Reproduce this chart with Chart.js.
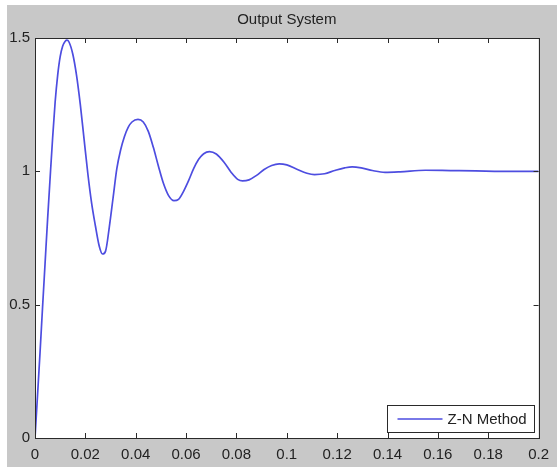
<!DOCTYPE html>
<html>
<head>
<meta charset="utf-8">
<script src="https://cdn.jsdelivr.net/npm/chart.js@4.4.1/dist/chart.umd.min.js"></script>
<style>
  html, body { margin: 0; padding: 0; background: #ffffff; }
  #wrap { width: 557px; height: 467px; }
</style>
</head>
<body>
<div id="wrap"><canvas id="outputChart" width="557" height="467"></canvas></div>
<script>
// step response samples (time in s)
const timeValues = [
  0, 0.001, 0.002, 0.003, 0.004, 0.005, 0.006, 0.007, 0.008, 0.009,
  0.010, 0.011, 0.012, 0.0127, 0.0135, 0.015, 0.0165, 0.018, 0.0195, 0.021,
  0.0225, 0.024, 0.0255, 0.0268, 0.028, 0.0295, 0.031, 0.0325, 0.034, 0.0355,
  0.037, 0.0385, 0.0409, 0.043, 0.045, 0.047, 0.049, 0.051, 0.053, 0.0552,
  0.057, 0.059, 0.061, 0.063, 0.065, 0.067, 0.0693, 0.072, 0.075, 0.078,
  0.0805, 0.0824, 0.085, 0.088, 0.091, 0.094, 0.097, 0.100, 0.104, 0.108,
  0.111, 0.115, 0.119, 0.123, 0.126, 0.130, 0.134, 0.139, 0.145, 0.155,
  0.165, 0.175, 0.185, 0.2
];
const outputValues = [
  0, 0.16, 0.32, 0.49, 0.655, 0.82, 0.975, 1.125, 1.26, 1.36,
  1.43, 1.47, 1.488, 1.492, 1.485, 1.44, 1.36, 1.25, 1.12, 0.99,
  0.88, 0.795, 0.72, 0.69, 0.70, 0.79, 0.90, 1.01, 1.08, 1.13,
  1.165, 1.185, 1.195, 1.185, 1.15, 1.09, 1.02, 0.955, 0.91, 0.89,
  0.895, 0.925, 0.965, 1.01, 1.045, 1.066, 1.074, 1.065, 1.035, 0.995,
  0.97, 0.964, 0.968, 0.985, 1.007, 1.022, 1.028, 1.024, 1.008, 0.993,
  0.988, 0.991, 1.003, 1.013, 1.017, 1.012, 1.003, 0.996, 0.998, 1.004,
  1.003, 1.002, 1.0, 1.0
];
const seriesLabel = 'Z-N Method';
const chartTitle = 'Output System';
const xTicks = [0, 0.02, 0.04, 0.06, 0.08, 0.1, 0.12, 0.14, 0.16, 0.18, 0.2];
const yTicks = [0, 0.5, 1, 1.5];

const FONT = '"Liberation Sans", Arial, sans-serif';
const TEXT = '#222222';
const AXIS = '#2a2a2a';
const LINE = '#4d4de0';

const points = timeValues.map((t, i) => ({ x: t, y: outputValues[i] }));

// figure background, axes box, inward ticks, title and legend
const matlabFrame = {
  id: 'matlabFrame',
  beforeDraw(chart) {
    const ctx = chart.ctx;
    const a = chart.chartArea;
    ctx.save();
    ctx.fillStyle = '#ffffff';
    ctx.fillRect(0, 0, chart.width, chart.height);
    ctx.fillStyle = '#c8c8c8';
    ctx.fillRect(7, 5, chart.width - 7, chart.height - 5);
    ctx.fillStyle = '#ffffff';
    ctx.fillRect(a.left, a.top, a.right - a.left, a.bottom - a.top);
    ctx.restore();
  },
  afterDraw(chart) {
    const ctx = chart.ctx;
    const a = chart.chartArea;
    const xs = chart.scales.x;
    const ys = chart.scales.y;
    ctx.save();
    ctx.strokeStyle = AXIS;
    ctx.lineWidth = 1;
    ctx.beginPath();
    xTicks.forEach(v => {
      const px = Math.round(xs.getPixelForValue(v)) + 0.5;
      ctx.moveTo(px, a.bottom); ctx.lineTo(px, a.bottom - 5);
      ctx.moveTo(px, a.top); ctx.lineTo(px, a.top + 5);
    });
    yTicks.forEach(v => {
      const py = Math.round(ys.getPixelForValue(v)) + 0.5;
      ctx.moveTo(a.left, py); ctx.lineTo(a.left + 5, py);
      ctx.moveTo(a.right, py); ctx.lineTo(a.right - 5, py);
    });
    ctx.stroke();
    ctx.strokeRect(Math.round(a.left) + 0.5, Math.round(a.top) + 0.5,
      Math.round(a.right - a.left), Math.round(a.bottom - a.top));

    // title
    ctx.fillStyle = TEXT;
    ctx.font = '15px ' + FONT;
    ctx.textAlign = 'center';
    ctx.textBaseline = 'middle';
    ctx.fillText(chartTitle, (a.left + a.right) / 2, 20);

    // legend box, bottom right of axes
    const ds = chart.data.datasets[0];
    const bw = 147, bh = 27;
    const bx = Math.round(a.right - 5 - bw) + 0.5;
    const by = Math.round(a.bottom - 6 - bh) + 0.5;
    ctx.fillStyle = '#ffffff';
    ctx.fillRect(bx, by, bw, bh);
    ctx.strokeStyle = AXIS;
    ctx.strokeRect(bx, by, bw, bh);
    ctx.strokeStyle = ds.borderColor;
    ctx.lineWidth = ds.borderWidth;
    ctx.beginPath();
    ctx.moveTo(bx + 10, by + bh / 2);
    ctx.lineTo(bx + 55, by + bh / 2);
    ctx.stroke();
    ctx.fillStyle = TEXT;
    ctx.textAlign = 'left';
    ctx.fillText(ds.label, bx + 60, by + bh / 2 + 1);
    ctx.restore();
  }
};

const ctx = document.getElementById('outputChart').getContext('2d');
new Chart(ctx, {
  type: 'line',
  data: {
    datasets: [{
      label: seriesLabel,
      data: points,
      borderColor: LINE,
      borderWidth: 1.7,
      pointRadius: 0,
      fill: false,
      cubicInterpolationMode: 'monotone'
    }]
  },
  options: {
    responsive: false,
    animation: false,
    layout: { padding: { left: 0, top: 38, right: 14, bottom: 0 } },
    plugins: {
      legend: { display: false },
      title: { display: false },
      tooltip: { enabled: false }
    },
    scales: {
      x: {
        type: 'linear',
        min: 0,
        max: 0.2,
        afterFit(scale) { scale.height = 29; },
        afterBuildTicks(scale) { scale.ticks = xTicks.map(v => ({ value: v })); },
        grid: { display: false, drawTicks: false },
        border: { display: false },
        ticks: {
          padding: 8,
          maxRotation: 0,
          autoSkip: false,
          color: TEXT,
          font: { family: FONT, size: 15 },
          callback: v => String(Number(v.toFixed(2)))
        }
      },
      y: {
        type: 'linear',
        min: 0,
        max: 1.5,
        afterFit(scale) { scale.width = 35; },
        afterBuildTicks(scale) { scale.ticks = yTicks.map(v => ({ value: v })); },
        grid: { display: false, drawTicks: false },
        border: { display: false },
        ticks: {
          padding: 5,
          autoSkip: false,
          color: TEXT,
          font: { family: FONT, size: 15 },
          callback: v => String(v)
        }
      }
    }
  },
  plugins: [matlabFrame]
});
</script>
</body>
</html>
